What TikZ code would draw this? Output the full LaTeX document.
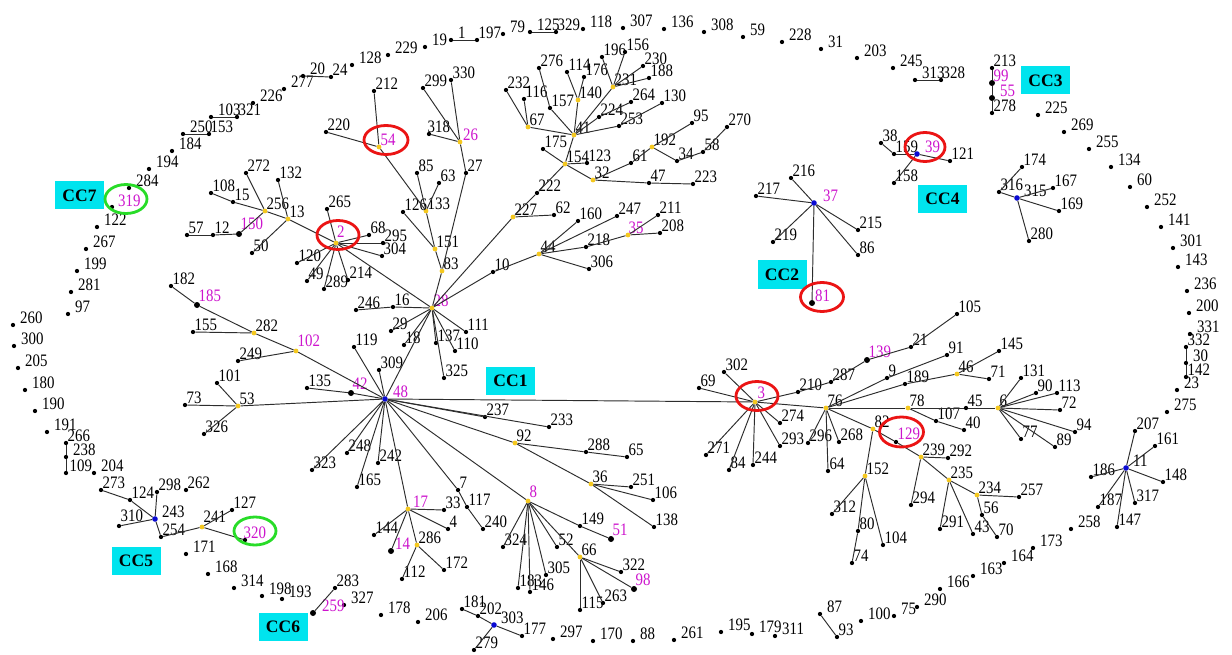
\documentclass[tikz,border=0pt]{standalone}
\usepackage{fontspec}
\newfontfamily\lbf{Liberation Serif}[FakeStretch=0.85]
\newfontfamily\ccf{Liberation Serif}
\definecolor{mag}{RGB}{205,20,205}
\definecolor{ylw}{RGB}{245,200,30}
\definecolor{blu}{RGB}{10,10,210}
\definecolor{cyn}{RGB}{0,228,238}
\definecolor{edg}{RGB}{45,45,45}
\definecolor{rring}{RGB}{235,20,20}
\definecolor{gring}{RGB}{40,220,40}
\tikzset{
 vd/.style={circle,fill=black,inner sep=0pt,minimum size=4.3pt},
 bg/.style={minimum size=6pt},
 yv/.style={fill=ylw,minimum size=4.8pt},
 bv/.style={fill=blu,minimum size=5.6pt},
 lab/.style={anchor=base west,inner sep=0pt,font=\lbf\fontsize{17.5}{17.5}\selectfont,xshift=1.5pt,yshift=1.5pt},
 r/.style={xshift=5.5pt},
 m/.style={text=mag},
 ed/.style={draw=edg,line width=0.95pt},
 ccbox/.style={fill=cyn,minimum width=49pt,minimum height=28pt,inner sep=0pt,font=\ccf\bfseries\fontsize{17.5}{17.5}\selectfont},
 redr/.style={draw=rring,line width=2.8pt},
 grnr/.style={draw=gring,line width=2.8pt},
}
\newcommand\V[5][]{\node[vd,#1] (n#2) at (#3,#4) {};\node[lab,#5] (t#2) at (n#2.center) {#2};}
\begin{document}
\begin{tikzpicture}[x=1pt,y=-1pt]
\fill[white] (0,0) rectangle (1232,655);
\useasboundingbox (0,0) rectangle (1232,655);
% ---- outer ring
\V{277}{284}{89}{r}
\V{20}{303}{76}{r}
\V{24}{331}{77}{}
\V{128}{352}{65}{r}
\V{229}{388}{55}{r}
\V{19}{425}{47}{r}
\V{1}{451}{40}{r}
\V{197}{477}{40}{}
\V{79}{503}{34}{r}
\V{125}{530}{32}{r}
\V{329}{556}{32}{}
\V{118}{583}{29}{r}
\V{307}{623}{28}{r}
\V{136}{664}{29}{r}
\V{308}{704}{32}{r}
\V{59}{743}{37}{r}
\V{228}{782}{42}{r}
\V{31}{821}{49}{r}
\V{203}{857}{58}{r}
\V{245}{893}{68}{r}
\V{313}{915}{80}{r}
\V{328}{941}{80}{}
\V{213}{992}{68}{}
\V[bg]{99}{992}{83}{m}
\V[bg]{55}{992}{98}{m,xshift=6.5pt}
\V{278}{992}{113}{}
\V{225}{1038}{115}{r}
\V{269}{1064}{132}{r}
\V{255}{1089}{149}{r}
\V{134}{1111}{167}{r}
\V{60}{1130}{187}{r}
\V{252}{1147}{207}{r}
\V{141}{1161}{227}{r}
\V{301}{1173}{248}{r}
\V{143}{1178}{267}{r}
\V{236}{1187}{291}{r}
\V{200}{1189}{313}{r}
\V{331}{1190}{334}{r}
\V{332}{1186}{347}{}
\V{30}{1186}{363}{r}
\V{142}{1186}{377}{}
\V{23}{1177}{390}{r}
\V{275}{1167}{412}{r}
\V{258}{1071}{529}{r}
\V{173}{1033}{548}{r}
\V{164}{1004}{563}{r}
\V{163}{973}{576}{r}
\V{166}{940}{589}{r}
\V{290}{917}{607}{r}
\V{75}{894}{616}{r}
\V{100}{861}{621}{r}
\V{87}{820}{614}{r}
\V{93}{837}{637}{}
\V{311}{775}{636}{r}
\V{179}{752}{634}{r}
\V{195}{721}{632}{r}
\V{261}{674}{640}{r}
\V{88}{633}{641}{r}
\V{170}{593}{641}{r}
\V{297}{553}{639}{r}
\V{177}{522}{636}{}
\V[bv]{303}{494}{625}{r}
\V{202}{478}{616}{}
\V{181}{462}{609}{}
\V{279}{474}{650}{}
\V{206}{418}{622}{r}
\V{178}{381}{615}{r}
\V{327}{344}{605}{r}
\V[bg]{259}{313}{613}{m,xshift=7.5pt}
\V{283}{335}{588}{}
\V{193}{282}{599}{r}
\V{198}{262}{596}{r}
\V{314}{234}{588}{r}
\V{168}{208}{574}{r}
\V{171}{186}{554}{r}
\V{320}{245}{540}{m,xshift=-3pt}
\V{127}{232}{510}{}
\V[yv]{241}{202}{527}{yshift=3pt}
\V{254}{161}{537}{}
\V[bv]{243}{155}{519}{r}
\V{310}{119}{526}{yshift=3pt}
\V{298}{157}{492}{}
\V{262}{186}{490}{}
\V{124}{130}{500}{}
\V{273}{101}{490}{}
\V{204}{94}{473}{r}
\V{109}{66}{473}{xshift=2pt}
\V{238}{66}{457}{r}
\V{266}{66}{443}{}
\V{191}{47}{432}{r}
\V{190}{35}{411}{r}
\V{180}{25}{390}{r}
\V{205}{18}{368}{r}
\V{300}{14}{346}{r}
\V{260}{13}{325}{r}
\V{97}{68}{314}{r}
\V{281}{71}{292}{r}
\V{199}{77}{271}{r}
\V{267}{86}{249}{r}
\V{122}{97}{227}{r}
\V{319}{112}{207}{m,xshift=4.5pt,yshift=-1pt}
\V{284}{129}{188}{r}
\V{194}{149}{169}{r}
\V{184}{172}{151}{r}
\V{250}{183}{134}{r}
\V{153}{209}{134}{}
\V{103}{211}{117}{r}
\V{321}{237}{117}{}
\V{226}{253}{103}{r}
% ---- CC1 core
\V[bv]{48}{385}{399}{m,xshift=6.5pt}
\V[yv]{3}{755}{402}{m,xshift=1pt,yshift=2.5pt}
\V[yv]{28}{432}{308}{m}
\V[yv]{2}{336}{243}{m,xshift=-0.5pt,yshift=3.5pt}
\V[yv]{13}{288}{219}{}
\V[yv]{256}{265}{211}{}
\V{15}{233}{202}{}
\V{108}{211}{193}{}
\V{272}{246}{173}{}
\V{132}{278}{180}{}
\V[bg]{150}{239}{234}{m,yshift=3pt}
\V{12}{213}{235}{}
\V{57}{187}{235}{}
\V{50}{252}{253}{}
\V{265}{327}{209}{}
\V{68}{369}{235}{}
\V{295}{383}{243}{}
\V{304}{382}{256}{}
\V{120}{297}{263}{}
\V{49}{307}{281}{}
\V{289}{324}{289}{}
\V{214}{348}{280}{}
\V[yv]{54}{379}{147}{m}
\V{212}{374}{91}{}
\V{220}{326}{132}{}
\V[yv]{133}{426}{211}{}
\V{126}{403}{212}{}
\V{85}{417}{173}{}
\V{63}{439}{183}{}
\V[yv]{151}{435}{249}{}
\V[yv]{83}{442}{271}{}
\V{27}{466}{173}{}
\V[yv]{26}{460}{142}{m,xshift=1.5pt}
\V{299}{423}{88}{}
\V{330}{451}{80}{}
\V{318}{429}{134}{xshift=-3pt}
\V{246}{356}{310}{}
\V{16}{393}{307}{}
\V{29}{391}{331}{}
\V{18}{404}{345}{}
\V{111}{466}{332}{}
\V{137}{436}{343}{}
\V{110}{455}{351}{}
\V{325}{444}{378}{}
\V{10}{493}{272}{}
\V[yv]{44}{539}{254}{}
\V{160}{578}{221}{}
\V{247}{617}{216}{}
\V{218}{586}{247}{}
\V[yv]{35}{628}{235}{m,xshift=-1pt}
\V{211}{658}{215}{}
\V{208}{660}{233}{}
\V{306}{589}{269}{}
\V[yv]{227}{513}{217}{}
\V{62}{554}{215}{}
\V{222}{537}{193}{}
\V[yv]{154}{565}{164}{}
\V{175}{543}{149}{}
\V{123}{587}{163}{}
\V[yv]{32}{593}{180}{}
\V{61}{631}{163}{}
\V[yv]{192}{652}{147}{}
\V{95}{692}{123}{}
\V{34}{677}{161}{}
\V{58}{703}{152}{}
\V{270}{727}{127}{}
\V{47}{649}{183}{}
\V{223}{693}{184}{}
\V[yv]{41}{574}{135}{}
\V[yv]{67}{528}{127}{}
\V{232}{506}{90}{}
\V{116}{524}{99}{}
\V{157}{550}{108}{}
\V{276}{539}{68}{}
\V[yv]{140}{578}{100}{}
\V{114}{567}{72}{}
\V{176}{584}{77}{}
\V[yv]{231}{613}{87}{}
\V{196}{602}{57}{}
\V{156}{625}{52}{}
\V{230}{643}{66}{}
\V{188}{649}{78}{}
\V{224}{599}{117}{}
\V{264}{631}{102}{}
\V{253}{619}{126}{}
\V{130}{662}{103}{}
% ---- CC1 left / bottom
\V[yv]{102}{296}{351}{m,yshift=3pt}
\V[yv]{282}{254}{333}{}
\V[bg]{185}{197}{305}{m,yshift=2pt}
\V{182}{171}{286}{}
\V{155}{193}{332}{}
\V{249}{238}{361}{}
\V[yv]{53}{238}{406}{}
\V{101}{217}{383}{}
\V{73}{185}{405}{}
\V{326}{204}{434}{}
\V{119}{354}{347}{}
\V{309}{379}{370}{}
\V{135}{307}{388}{}
\V[bg]{42}{351}{393}{m,yshift=2pt}
\V{237}{485}{417}{}
\V{233}{549}{427}{}
\V[yv]{92}{515}{443}{}
\V{288}{586}{452}{}
\V{65}{627}{457}{}
\V[yv]{36}{591}{484}{}
\V{251}{631}{487}{}
\V{106}{653}{500}{}
\V{138}{654}{527}{}
\V[yv]{8}{528}{501}{m,yshift=2pt}
\V{149}{580}{526}{}
\V[bg]{51}{611}{539}{m,yshift=2pt}
\V{324}{503}{547}{}
\V{183}{518}{588}{}
\V{146}{530}{592}{}
\V{305}{546}{575}{}
\V{52}{557}{547}{}
\V[yv]{66}{580}{557}{}
\V{115}{580}{610}{}
\V{263}{603}{603}{}
\V{322}{621}{572}{}
\V[bg]{98}{634}{589}{m,yshift=2pt}
\V{7}{458}{490}{}
\V{117}{467}{507}{}
\V{240}{483}{529}{}
\V[yv]{17}{408}{509}{m,xshift=3.5pt}
\V{33}{444}{510}{}
\V{4}{448}{529}{}
\V{144}{374}{535}{}
\V[bg]{14}{391}{551}{m,xshift=2.5pt}
\V[yv]{286}{417}{545}{}
\V{112}{402}{579}{}
\V{172}{444}{570}{}
\V{242}{378}{463}{}
\V{248}{347}{453}{}
\V{165}{357}{487}{}
\V{323}{312}{470}{}
% ---- CC1 right
\V{69}{699}{388}{}
\V{302}{724}{372}{}
\V{210}{798}{392}{}
\V{287}{831}{382}{}
\V[bg]{139}{867}{360}{m,yshift=1pt}
\V{21}{911}{347}{}
\V{105}{957}{314}{}
\V{274}{780}{423}{}
\V{271}{706}{455}{}
\V{84}{729}{470}{}
\V{244}{753}{465}{}
\V{293}{780}{446}{}
\V[yv]{76}{826}{408}{}
\V{296}{808}{443}{}
\V{268}{839}{442}{}
\V{64}{828}{471}{}
\V{9}{887}{378}{}
\V{91}{947}{355}{}
\V{189}{905}{384}{}
\V[yv]{46}{957}{374}{}
\V{145}{999}{351}{}
\V{71}{989}{379}{}
\V[yv]{78}{908}{408}{}
\V{45}{966}{408}{}
\V[yv]{6}{998}{408}{}
\V{107}{936}{421}{}
\V{40}{964}{430}{}
\V{131}{1021}{378}{}
\V{90}{1036}{393}{}
\V{113}{1057}{393}{}
\V{72}{1060}{410}{}
\V{94}{1075}{432}{}
\V{77}{1021}{439}{}
\V{89}{1055}{447}{}
\V[yv]{82}{873}{429}{}
\V{129}{896}{442}{m,yshift=1pt}
\V[yv]{152}{865}{476}{}
\V{312}{832}{514}{}
\V{80}{858}{531}{}
\V{74}{852}{563}{}
\V{104}{883}{545}{}
\V[yv]{239}{921}{457}{}
\V{292}{948}{458}{}
\V{294}{911}{505}{}
\V[yv]{235}{949}{480}{}
\V{291}{940}{529}{}
\V{43}{973}{534}{}
\V[yv]{234}{977}{495}{}
\V{257}{1019}{497}{}
\V{56}{982}{515}{}
\V{70}{997}{537}{}
% ---- CC2
\V[bv]{37}{814}{203}{m,xshift=7.5pt}
\V{216}{791}{178}{}
\V{217}{756}{196}{}
\V{219}{773}{242}{}
\V{215}{858}{230}{}
\V{86}{858}{255}{}
\V[bg]{81}{812}{303}{m,xshift=1.5pt}
% ---- CC4
\V[bv]{39}{917}{154}{m,xshift=6.5pt}
\V{159}{894}{154}{}
\V{38}{881}{143}{}
\V{158}{894}{183}{}
\V{121}{950}{161}{}
% ---- small components
\V[bv]{315}{1017}{198}{r}
\V{316}{999}{192}{}
\V{174}{1022}{167}{}
\V{167}{1053}{188}{}
\V{169}{1059}{211}{}
\V{280}{1029}{241}{}
\V[bv]{11}{1126}{468}{r}
\V{207}{1135}{431}{}
\V{161}{1155}{446}{}
\V{148}{1163}{482}{}
\V{317}{1135}{503}{}
\V{147}{1117}{527}{}
\V{187}{1098}{507}{}
\V{186}{1091}{477}{}
% ---- edges
\foreach \a/\b in {48/3,48/28,48/102,48/53,48/119,48/309,48/42,42/135,48/237,48/233,48/92,48/8,48/7,7/117,117/240,48/17,48/242,48/248,48/165,48/323,%
102/249,102/282,282/185,185/182,282/155,53/101,53/73,53/326,%
92/288,288/65,92/36,36/251,36/106,36/138,%
8/149,149/51,8/324,8/183,8/146,8/305,8/52,8/66,66/115,66/263,66/322,66/98,%
17/33,17/4,17/144,17/14,17/286,286/112,286/172,%
28/2,28/16,16/246,28/29,28/18,28/111,28/137,28/110,28/325,28/83,83/151,151/133,151/126,133/54,133/85,133/63,54/212,54/220,83/27,27/26,26/299,26/330,26/318,%
28/10,10/44,44/160,44/247,44/218,218/35,35/211,35/208,44/306,%
28/227,227/62,227/222,222/154,154/175,154/123,154/32,32/61,61/192,192/95,192/34,34/58,58/270,32/47,47/223,154/41,41/67,67/232,67/116,41/157,157/276,41/140,140/114,140/176,41/231,231/196,231/156,231/230,231/188,41/224,224/264,41/253,253/130,%
2/13,13/256,256/15,15/108,256/272,13/132,256/150,150/12,12/57,13/50,2/265,2/68,2/295,2/304,2/120,2/49,2/289,2/214,%
3/69,3/302,3/210,210/287,287/139,139/21,21/105,3/274,3/271,3/84,3/244,3/293,3/76,76/296,76/268,76/64,76/9,9/91,76/189,189/46,46/145,46/71,76/78,78/45,45/6,78/107,107/40,6/131,6/90,6/113,6/72,6/94,6/77,6/89,76/82,82/129,129/239,82/152,152/312,152/80,80/74,152/104,239/292,239/294,239/235,235/291,235/43,235/234,234/257,234/56,56/70,%
37/216,37/217,37/219,37/215,37/86,37/81,%
39/159,159/38,39/158,39/121,%
315/316,315/169,315/167,316/174,315/280,%
11/207,11/161,11/148,11/317,11/147,11/187,11/186,%
243/124,124/273,243/298,243/310,243/254,254/241,241/127,241/320,%
266/238,238/109,332/30,30/142,213/99,99/55,55/278,313/328,250/153,103/321,20/24,1/197,125/329,259/283,87/93,181/202,202/303,303/177,303/279}
  \draw[ed] (n\a) -- (n\b);
% ---- CC labels
\node[ccbox] (cc1) at (510.5,380.5) {CC1};
\node[ccbox] (cc2) at (782,274.5) {CC2};
\node[ccbox] (cc3) at (1045.5,80.5) {CC3};
\node[ccbox] (cc4) at (942.5,199) {CC4};
\node[ccbox] (cc5) at (136,561) {CC5};
\node[ccbox] (cc6) at (283,626.5) {CC6};
\node[ccbox] (cc7) at (79.5,195.5) {CC7};
% ---- rings
\draw[redr] (386,140) ellipse [x radius=22pt,y radius=14.5pt];
\draw[redr] (338,235) ellipse [x radius=21pt,y radius=14.5pt];
\draw[redr] (822,297) ellipse [x radius=21.5pt,y radius=14.5pt];
\draw[redr] (925,147) ellipse [x radius=20pt,y radius=14.5pt];
\draw[redr] (757,396) ellipse [x radius=21pt,y radius=14.5pt];
\draw[redr] (901.5,432) ellipse [x radius=22pt,y radius=15pt];
\draw[grnr] (126,199) ellipse [x radius=21pt,y radius=14.5pt];
\draw[grnr] (255,531) ellipse [x radius=21pt,y radius=14pt];
\end{tikzpicture}
\end{document}
